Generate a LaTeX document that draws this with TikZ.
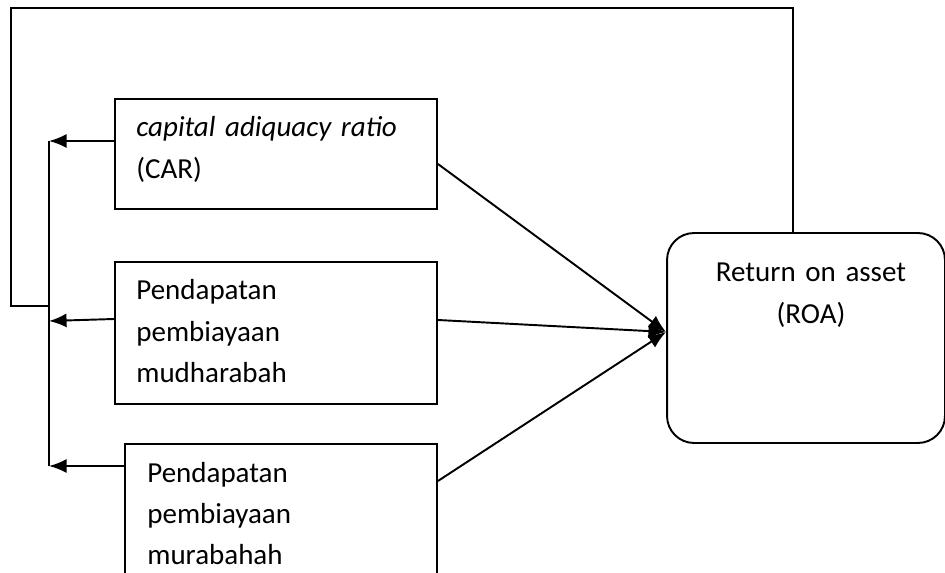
\documentclass[tikz,border=0pt]{standalone}
\usepackage{fontspec}
\setmainfont{Carlito}
\usetikzlibrary{arrows.meta,calc}
\tikzset{>={Latex[length=10pt,width=8pt]}}
\tikzstyle{varbox}=[rectangle,draw=black,line width=1.1pt,minimum width=6.44cm]
\tikzstyle{roabox}=[rectangle,draw=black,line width=1.1pt,rounded corners=0.54cm,minimum width=5.56cm,minimum height=4.2cm]
\tikzstyle{vartext}=[inner sep=0pt,anchor=base west,text width=6cm,align=left,font=\fontsize{16.5}{23.6}\selectfont]
\tikzstyle{link}=[line width=1.1pt]

\begin{document}
\begin{tikzpicture}[x=0.02cm,y=-0.02cm]
	\useasboundingbox (0,0) rectangle (945,573);
	
	\node[varbox, minimum height=2.2cm] (car) at (276,154) {};
	\node[varbox, minimum height=2.84cm] (mud) at (276,333) {};
	\node[varbox, minimum width=6.24cm, minimum height=3.12cm] (mur) at (281,522) {};
	\node[roabox] (roa) at (806,338) {};
	
	\node[vartext] (cartext) at (136,137) {\textit{capital adiquacy ratio}\\(CAR)};
	\node[vartext] (mudtext) at (136,300) {Pendapatan\\pembiayaan\\mudharabah};
	\node[vartext] (murtext) at (147,482) {Pendapatan\\pembiayaan\\murabahah};
	\node[vartext, anchor=base, align=center, text width=5cm] (roatext) at (811,282) {Return on asset\\(ROA)};
	
	\coordinate (bustop) at (49,141);
	\coordinate (busmid) at (49,321);
	\coordinate (busbot) at (49,466);
	\coordinate (loopleft) at (11,306);
	\coordinate (loopright) at (793,8);
	\coordinate (roain) at (666,332);
	
	\draw[link] (bustop) -- (busbot);
	\draw[link,->] (car.west |- bustop) -- (bustop);
	\draw[link,->] ($(mud.west)+(0,-14)$) -- (busmid);
	\draw[link,->] (mur.west |- busbot) -- (busbot);
	\draw[link] (busmid |- loopleft) -- (loopleft) |- (loopright) -- (loopright |- roa.north);
	
	\draw[link,->] ($(car.east)+(0,10)$) -- (roain);
	\draw[link,->] ($(mud.east)+(0,-13)$) -- (roain);
	\draw[link,->] ($(mur.east)+(0,-41)$) -- (roain);
\end{tikzpicture}
\end{document}
